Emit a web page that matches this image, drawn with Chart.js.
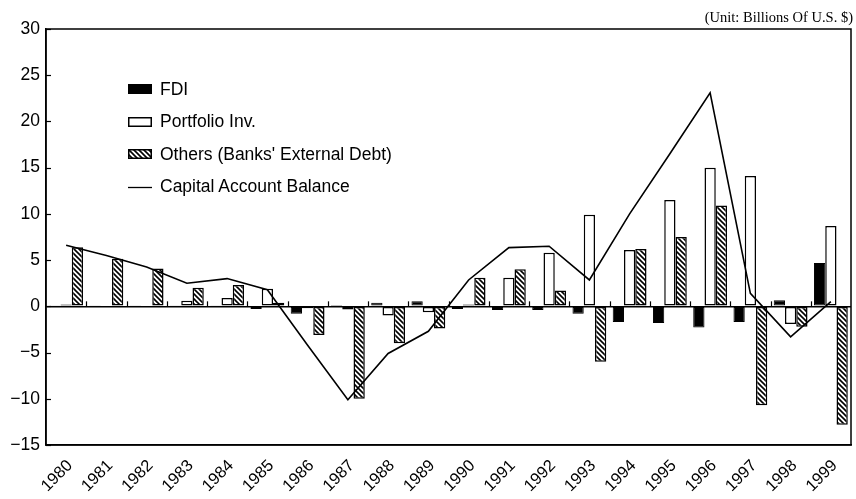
<!DOCTYPE html>
<html><head><meta charset="utf-8">
<script src="https://cdn.jsdelivr.net/npm/chart.js@4/dist/chart.umd.min.js"></script>
<style>
html,body{margin:0;padding:0;background:#fff;}
#wrap{position:relative;width:856px;height:499px;}
#unit{position:absolute;right:3px;top:9px;font-family:"Liberation Serif","Times New Roman",serif;font-size:14.5px;color:#000;white-space:nowrap;}
#legend{position:absolute;left:128px;top:73px;font-family:"Liberation Sans",Arial,sans-serif;font-size:17.5px;color:#000;}
.item{height:32.5px;display:flex;align-items:center;white-space:nowrap;}
.item canvas{margin-right:8px;display:block;}
</style></head><body>
<div id="wrap"><canvas id="c" width="856" height="499"></canvas>
<div id="unit">(Unit: Billions Of U.S. $)</div>
<div id="legend"></div></div>
<script>
const years = ['1980','1981','1982','1983','1984','1985','1986','1987','1988','1989','1990','1991','1992','1993','1994','1995','1996','1997','1998','1999'];
const fdi = [0.05, 0.05, 0.05, 0.05, 0.05, -0.3, -0.8, 0.15, 0.4, 0.55, -0.3, -0.4, -0.4, -0.8, -1.7, -1.8, -2.3, -1.7, 0.65, 4.7];
const portfolio = [0.2, 0, 0, 0.6, 0.9, 1.9, -0.2, -0.35, -1.0, -0.65, 0.2, 3.1, 5.8, 9.9, 6.1, 11.5, 15.0, 14.1, -1.9, 8.7];
const others = [6.4, 5.15, 4.1, 2.0, 2.3, 0.4, -3.1, -10.0, -4.0, -2.4, 3.1, 4.0, 1.7, -6.0, 6.2, 7.5, 10.9, -10.7, -2.2, -12.8];
const capitalAccount = [6.6, 5.5, 4.25, 2.5, 3.0, 1.8, -4.2, -10.1, -5.1, -2.7, 2.85, 6.35, 6.5, 2.85, 10.0, 16.5, 23.1, 1.4, -3.3, 0.5];
const yMin = -15, yMax = 30, yStep = 5;
const seriesNames = ['FDI', 'Portfolio Inv.', "Others (Banks' External Debt)", 'Capital Account Balance'];

function makeHatch(ctx){
  const s = 5;
  const t = document.createElement('canvas'); t.width = s; t.height = s;
  const g = t.getContext('2d');
  g.fillStyle = '#fff'; g.fillRect(0,0,s,s);
  g.strokeStyle = '#000'; g.lineWidth = 1.6;
  g.beginPath();
  g.moveTo(-1,-1); g.lineTo(s+1,s+1);
  g.moveTo(-1,s-1); g.lineTo(1,s+1);
  g.moveTo(s-1,-1); g.lineTo(s+1,1);
  g.stroke();
  return ctx.createPattern(t,'repeat');
}

const canvas = document.getElementById('c');
const ctx = canvas.getContext('2d');
const hatch = makeHatch(ctx);
const fontFam = '"Liberation Sans", Arial, Helvetica, sans-serif';

const extras = {
  id: 'extras',
  afterDraw(chart){
    const {ctx, chartArea: a, scales: {x, y}} = chart;
    ctx.save();
    ctx.strokeStyle = '#000';
    ctx.lineWidth = 1.5;
    ctx.strokeRect(a.left, a.top, a.right - a.left, a.bottom - a.top);
    ctx.lineWidth = 1.2;
    y.ticks.forEach(t => {
      const py = Math.round(y.getPixelForValue(t.value)) + 0.5;
      ctx.beginPath(); ctx.moveTo(a.left, py); ctx.lineTo(a.left + 5, py); ctx.stroke();
    });
    const zy = y.getPixelForValue(0);
    for (let i = 1; i < years.length; i++) {
      const px = Math.round((x.getPixelForValue(i - 1) + x.getPixelForValue(i)) / 2) + 0.5;
      ctx.beginPath(); ctx.moveTo(px, zy); ctx.lineTo(px, zy - 5); ctx.stroke();
    }
    ctx.restore();
  }
};

const chart = new Chart(ctx, {
  type: 'bar',
  data: {
    labels: years,
    datasets: [
      {label: seriesNames[0], data: fdi, backgroundColor: '#000', borderColor: '#000', borderWidth: 1, borderSkipped: false, order: 1},
      {label: seriesNames[1], data: portfolio, backgroundColor: '#fff', borderColor: '#000', borderWidth: 1.5, borderSkipped: false, order: 1},
      {label: seriesNames[2], data: others, backgroundColor: hatch, borderColor: '#000', borderWidth: 1.5, borderSkipped: false, order: 1},
      {type: 'line', label: seriesNames[3], data: capitalAccount, borderColor: '#000', borderWidth: 1.6, pointRadius: 0, fill: false, tension: 0, order: 0}
    ]
  },
  options: {
    responsive: false,
    animation: false,
    devicePixelRatio: 1,
    layout: {padding: {top: 29, right: 5, left: 0, bottom: 0}},
    plugins: {legend: {display: false}, tooltip: {enabled: false}},
    datasets: {bar: {categoryPercentage: 0.84, barPercentage: 1.0}},
    scales: {
      x: {
        offset: true,
        grid: {display: false, drawTicks: false},
        border: {display: true, color: '#000', width: 1.5},
        ticks: {minRotation: 45, maxRotation: 45, autoSkip: false, padding: 11, labelOffset: 4, color: '#000', font: {family: fontFam, size: 16.5}},
        afterFit(s){ s.height = 54; s.paddingLeft = 0; s.paddingRight = 0; }
      },
      y: {
        min: yMin, max: yMax,
        ticks: {stepSize: yStep, color: '#000', padding: 6, font: {family: fontFam, size: 17.5},
          callback: v => String(v).replace('-', '\u2212')},
        grid: {drawTicks: false, lineWidth: 1.5,
          color: c => (c.tick && c.tick.value === 0) ? '#000' : 'rgba(0,0,0,0)'},
        border: {display: true, color: '#000', width: 1.5},
        afterFit(s){ s.width = 46; }
      }
    }
  },
  plugins: [extras]
});

const legend = document.getElementById('legend');
chart.data.datasets.forEach((ds, i) => {
  const item = document.createElement('div'); item.className = 'item';
  const sw = document.createElement('canvas'); sw.width = 24; sw.height = 10;
  const g = sw.getContext('2d');
  if (ds.type === 'line') {
    g.strokeStyle = '#000'; g.lineWidth = 1.3;
    g.beginPath(); g.moveTo(0, 5.5); g.lineTo(24, 5.5); g.stroke();
  } else {
    g.fillStyle = (i === 2) ? makeHatch(g) : ds.backgroundColor;
    g.fillRect(1, 1, 22, 8);
    g.strokeStyle = '#000'; g.lineWidth = 1.5;
    g.strokeRect(0.75, 0.75, 22.5, 8.5);
  }
  item.appendChild(sw);
  const tx = document.createElement('span'); tx.textContent = ds.label;
  item.appendChild(tx);
  legend.appendChild(item);
});
</script>
</body></html>
